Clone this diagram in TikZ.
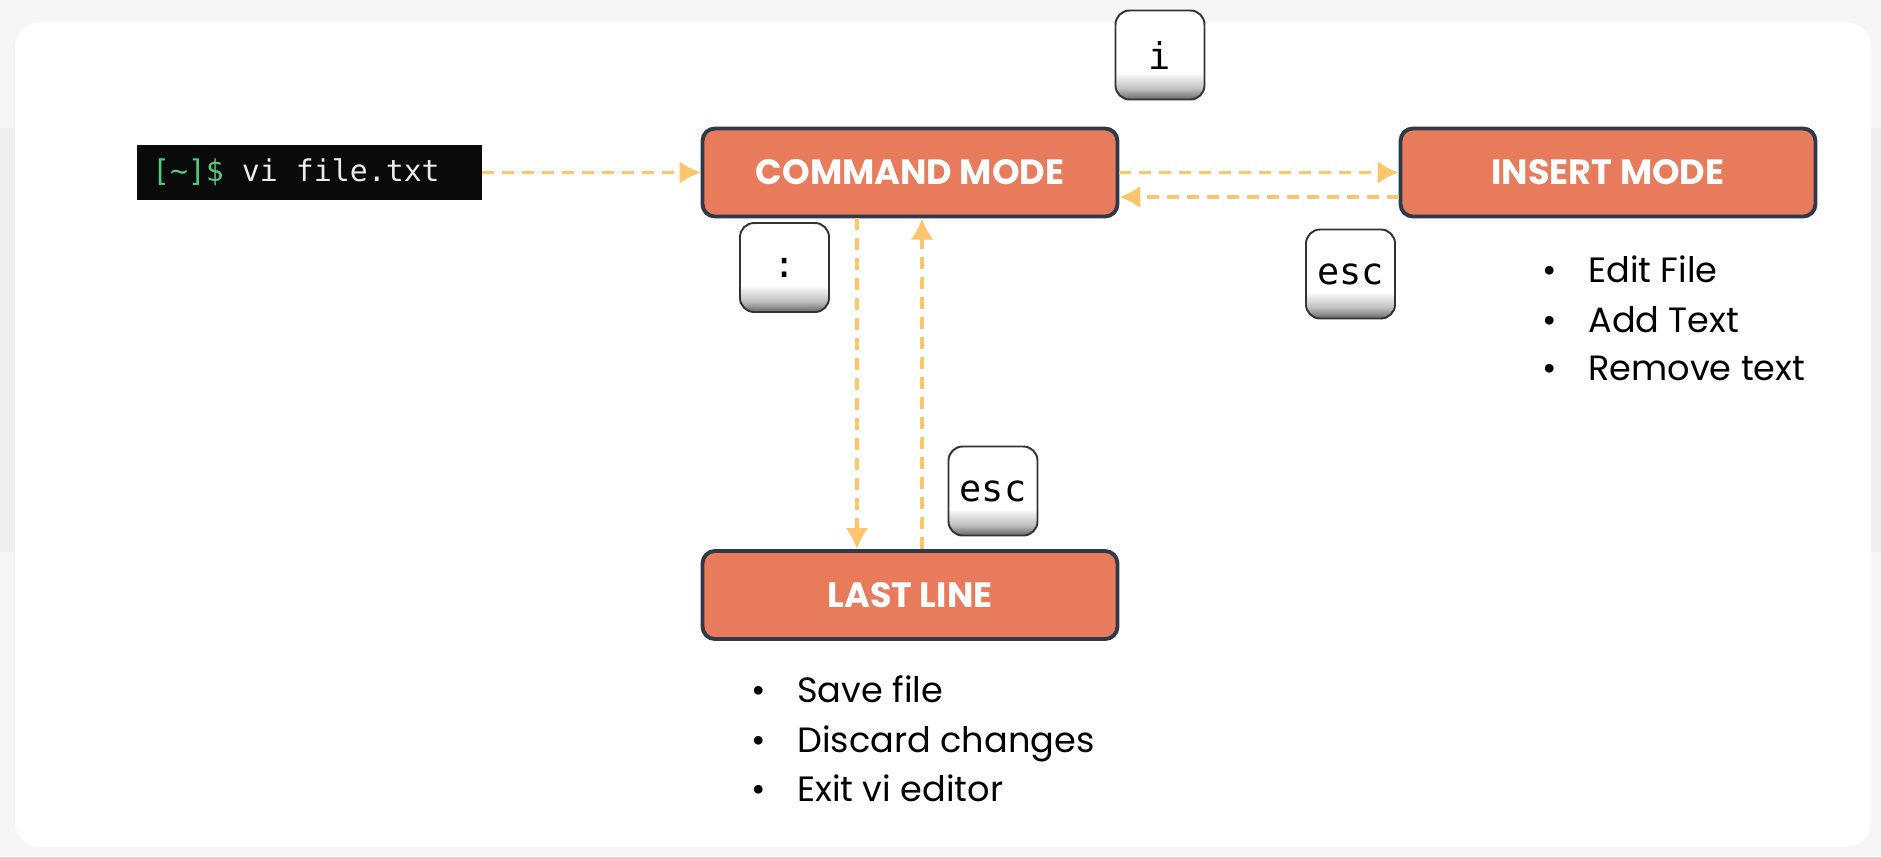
\documentclass[tikz,border=0pt]{standalone}
\usepackage{fontspec}
\setmainfont{Poppins}
\newfontfamily\keyfont{DejaVu Sans Mono}
\usetikzlibrary{arrows.meta}
\tikzset{>={Latex[length=12pt,width=13pt]}}
\definecolor{modefill}{HTML}{E97B5D}
\definecolor{modeedge}{HTML}{2E3A4A}
\definecolor{flowcol}{HTML}{FFC56C}
\definecolor{promptgreen}{HTML}{4CCB7C}
\definecolor{cardbg}{HTML}{F6F6F6}
\definecolor{cardband}{HTML}{EEEEEE}
\pgfdeclareverticalshading{keyshade}{100bp}{color(0bp)=(black!60); color(25bp)=(black!60); color(31bp)=(black!25); color(40bp)=(white); color(100bp)=(white)}
\newcommand{\bul}{\makebox[0.92cm][l]{\textbullet}}
\newcommand{\monosp}{\hspace{0.602em}}

\begin{document}
\begin{tikzpicture}[x=0.02cm, y=-0.02cm,
                    mode/.style={draw=modeedge, line width=2.2pt, fill=modefill, rounded corners=7pt,
                                 minimum width=8.3cm, minimum height=1.76cm, text=white,
                                 font=\bfseries\fontsize{20}{22}\selectfont},
                    keycap/.style={draw=black!80, line width=1.1pt, rounded corners=8pt, shade, shading=keyshade,
                                   minimum width=1.78cm, minimum height=1.78cm,
                                   font=\keyfont\fontsize{21}{24}\selectfont},
                    flow/.style={flowcol, line width=2pt, dash pattern=on 0.24cm off 0.16cm, ->},
                    note/.style={anchor=base west, inner sep=0pt, font=\fontsize{20}{24}\selectfont},
                   ]

\useasboundingbox (0,0) rectangle (1881,856);
\fill[cardbg] (0,0) rectangle (1881,856);
\fill[cardband] (0,128) rectangle (1881,552);
\fill[white, rounded corners=0.5cm] (15,22) rectangle (1871,847);

\node[fill=black!96, text=white!92!black, text width=6.3cm, inner xsep=0.3cm, align=left,
      minimum height=1.1cm, font=\keyfont\fontsize{17}{19}\selectfont] (term) at (309.5,172.5)
      {{\color{promptgreen}[\textasciitilde]\$}\monosp vi\monosp file.txt};

\node[mode] (cmd) at (910,172.5) {COMMAND MODE};
\node[mode] (ins) at (1608,172.5) {INSERT MODE};
\node[mode] (last) at (910,595) {LAST LINE};

\node[keycap] (keyi) at (1160,55) {i};
\node[keycap] (keycolon) at (784.5,267.5) {:};
\node[keycap] (keyescins) at (1350.5,274) {esc};
\node[keycap] (keyesclast) at (993,491) {esc};

\node[note] (editfile) at (1542,282) {\bul Edit File};
\node[note] (addtext) at (1542,332) {\bul Add Text};
\node[note] (removetext) at (1542,380) {\bul Remove text};

\node[note] (savefile) at (751,702) {\bul Save file};
\node[note] (discard) at (751,752) {\bul Discard changes};
\node[note] (exitvi) at (751,801) {\bul Exit vi editor};

\draw[flow] (term) -- (cmd);
\draw[flow] (cmd) -- (ins);
\draw[flow] ([yshift=-0.49cm]ins.west) -- ([yshift=-0.49cm]cmd.east);
\draw[flow] ([xshift=-1.06cm]cmd.south) -- ([xshift=-1.06cm]last.north);
\draw[flow] ([xshift=0.24cm]last.north) -- ([xshift=0.24cm]cmd.south);

\end{tikzpicture}
\end{document}
